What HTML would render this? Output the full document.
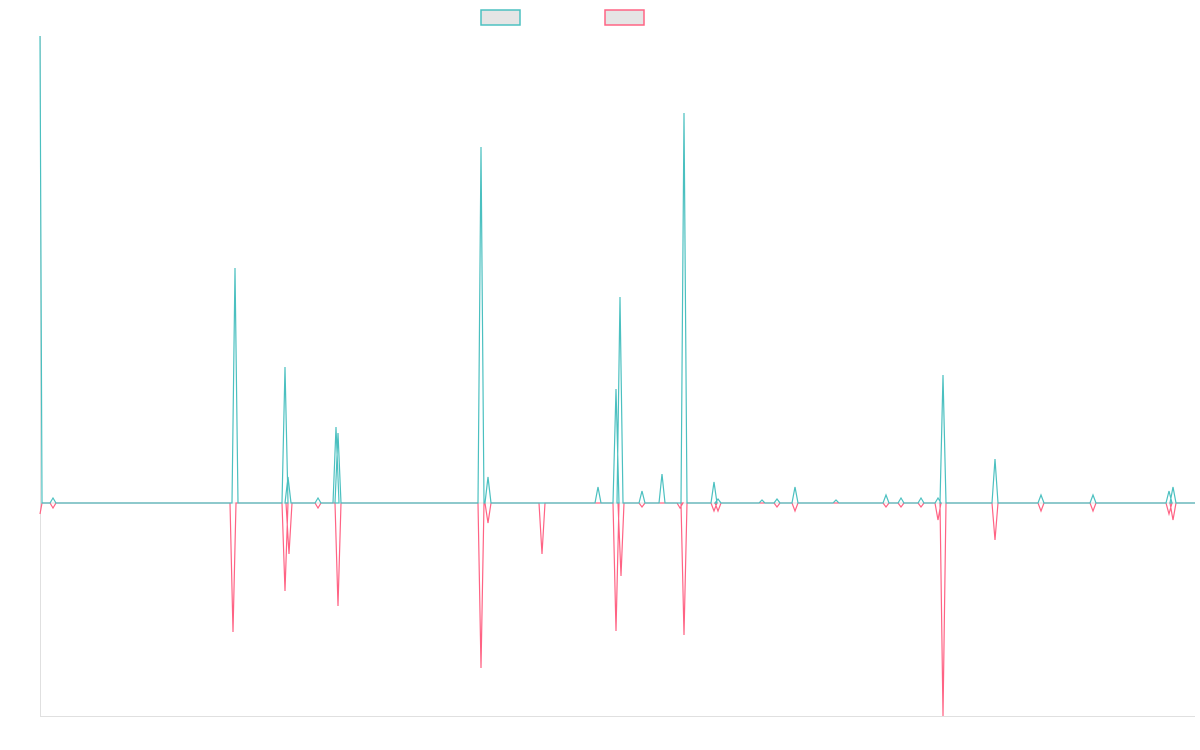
<!DOCTYPE html>
<html><head><meta charset="utf-8"><style>
html,body{margin:0;padding:0;background:#fff;width:1200px;height:750px;overflow:hidden}
</style></head><body>
<svg id="s" width="1200" height="750" xmlns="http://www.w3.org/2000/svg">
<rect x="481" y="10" width="39" height="15" fill="#e5e5e5" stroke="#4bc0c0" stroke-width="1.5"/>
<rect x="605" y="10" width="39" height="15" fill="#e5e5e5" stroke="#ff6384" stroke-width="1.5"/>
<line x1="40.5" y1="36" x2="40.5" y2="716.5" stroke="#e0e0e0" stroke-width="1"/>
<line x1="40" y1="716.5" x2="1195" y2="716.5" stroke="#e0e0e0" stroke-width="1"/>
<line x1="40" y1="503" x2="1195" y2="503" stroke="#e0e0e0" stroke-width="1"/>
</svg>
<script>
function build(sp){var d="M40 "+sp[0][1]+" L42 503";for(var i=1;i<sp.length;i++){var x=sp[i][0],y=sp[i][1];d+=" L"+(x-3)+" 503 L"+x+" "+y+" L"+(x+3)+" 503";}d+=" L1195 503";return d;}
var pink=[[40,514],[53,508],[233,632],[285,591],[289,554],[318,508],[338,606],[481,668],[488,523],[542,554],[616,631],[621,576],[642,507],[680,508],[684,635],[714,511],[718,511],[777,507],[795,511],[886,507],[901,507],[921,507],[938,520],[943,716],[995,540],[1041,511],[1093,511],[1169,514],[1173,520]];
var teal=[[40,36],[53,498],[235,268],[285,367],[288,477],[318,498],[336,427],[338,433],[481,147],[488,477],[598,487],[616,389],[620,297],[642,491],[662,474],[684,113],[714,482],[718,499],[762,500],[777,499],[795,487],[836,500],[886,495],[901,498],[921,498],[938,498],[943,375],[995,459],[1041,495],[1093,495],[1169,491],[1173,487]];
var s=document.getElementById('s');
function add(d,c){var p=document.createElementNS('http://www.w3.org/2000/svg','path');p.setAttribute('d',d);p.setAttribute('fill','none');p.setAttribute('stroke',c);p.setAttribute('stroke-width','1.2');s.appendChild(p);}
add(build(pink),'#ff6384');add(build(teal),'#4bc0c0');
</script>
</body></html>
